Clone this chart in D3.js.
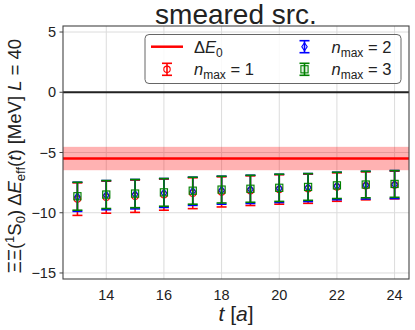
<!DOCTYPE html>
<html><head><meta charset="utf-8">
<script src="https://cdn.jsdelivr.net/npm/d3@7"></script>
<style>body{margin:0;background:#fff}svg{display:block}text{font-family:"Liberation Sans",Arial,sans-serif}</style>
</head><body>
<script>
const tVals = [13,14,15,16,17,18,19,20,21,22,23,24];
const n1Val = [-8.87,-8.71,-8.63,-8.50,-8.38,-8.27,-8.17,-8.07,-8.01,-7.87,-7.77,-7.70];
const n1Err = [1.35,1.33,1.34,1.29,1.28,1.25,1.23,1.22,1.21,1.18,1.16,1.15];
const n2Val = [-8.68,-8.54,-8.46,-8.36,-8.22,-8.13,-8.06,-7.98,-7.91,-7.78,-7.71,-7.66];
const n2Err = [1.21,1.21,1.22,1.20,1.17,1.16,1.17,1.17,1.16,1.14,1.15,1.16];
const n3Val = [-8.63,-8.49,-8.41,-8.31,-8.17,-8.08,-8.01,-7.93,-7.86,-7.73,-7.66,-7.61];
const n3Err = [1.16,1.16,1.17,1.15,1.12,1.11,1.12,1.13,1.11,1.09,1.10,1.11];
const E0 = -5.5, E0Err = 0.97;
const xTicks = [14,16,18,20,22,24];
const yTicks = [5,0,-5,-10,-15];

const W=415,H=330, L=63,R=409,T=26,B=279;
const svg=d3.select("body").append("svg").attr("width",W).attr("height",H);
const x=d3.scaleLinear().domain([12.5,24.5]).range([L,R]);
const y=d3.scaleLinear().domain([-15.5,5.5]).range([B,T]);

// grid
svg.append("g").selectAll("line").data(xTicks).join("line")
  .attr("x1",d=>x(d)).attr("x2",d=>x(d)).attr("y1",T).attr("y2",B)
  .attr("stroke","#dcdcdc").attr("stroke-width",1);
svg.append("g").selectAll("line").data(yTicks).join("line")
  .attr("x1",L).attr("x2",R).attr("y1",d=>y(d)).attr("y2",d=>y(d))
  .attr("stroke","#dcdcdc").attr("stroke-width",1);

// band & line
svg.append("rect").attr("x",L).attr("width",R-L)
  .attr("y",y(E0+E0Err)).attr("height",y(E0-E0Err)-y(E0+E0Err))
  .attr("fill","#ff0000").attr("fill-opacity",0.3);
svg.append("line").attr("x1",L).attr("x2",R).attr("y1",y(E0)).attr("y2",y(E0))
  .attr("stroke","#ff0000").attr("stroke-width",2.5);
svg.append("line").attr("x1",L).attr("x2",R).attr("y1",y(0)).attr("y2",y(0))
  .attr("stroke","#222").attr("stroke-width",1.8);

const series=[
  {vals:n1Val,errs:n1Err,color:"#ff0000",marker:"circle"},
  {vals:n2Val,errs:n2Err,color:"#0000ff",marker:"diamond"},
  {vals:n3Val,errs:n3Err,color:"#008000",marker:"square"}
];
function drawMarker(g,type,cx,cy,color){
  if(type==="circle") g.append("circle").attr("cx",cx).attr("cy",cy).attr("r",3.2)
      .attr("fill","none").attr("stroke",color).attr("stroke-width",1.1);
  else if(type==="diamond") g.append("path")
      .attr("d",`M${cx},${cy-4}L${cx+2.7},${cy}L${cx},${cy+4}L${cx-2.7},${cy}Z`)
      .attr("fill","none").attr("stroke",color).attr("stroke-width",1.1);
  else g.append("rect").attr("x",cx-3.6).attr("y",cy-3.6).attr("width",7.2).attr("height",7.2)
      .attr("fill","#008000").attr("fill-opacity",0.12).attr("stroke",color).attr("stroke-width",1.1);
}
function errbar(g,cx,yTop,yBot,color){
  g.append("line").attr("x1",cx).attr("x2",cx).attr("y1",yTop).attr("y2",yBot)
    .attr("stroke",color).attr("stroke-width",1.6);
  [yTop,yBot].forEach(yy=>g.append("line").attr("x1",cx-5).attr("x2",cx+5)
    .attr("y1",yy).attr("y2",yy).attr("stroke",color).attr("stroke-width",1.6));
}
series.forEach(s=>{
  const g=svg.append("g");
  tVals.forEach((t,i)=>{
    errbar(g,x(t),y(s.vals[i]+s.errs[i]),y(s.vals[i]-s.errs[i]),s.color);
    drawMarker(g,s.marker,x(t),y(s.vals[i]),s.color);
  });
});

// frame
svg.append("rect").attr("x",L).attr("y",T).attr("width",R-L).attr("height",B-T)
  .attr("fill","none").attr("stroke","#444").attr("stroke-width",1.1);

// y ticks
svg.append("g").selectAll("line").data(yTicks).join("line")
  .attr("x1",L-3.5).attr("x2",L).attr("y1",d=>y(d)).attr("y2",d=>y(d))
  .attr("stroke","#444").attr("stroke-width",1);
svg.append("g").selectAll("text").data(yTicks).join("text")
  .attr("x",L-7).attr("y",d=>y(d)+5).attr("text-anchor","end")
  .attr("font-size",14.5).attr("fill","#222")
  .text(d=>d<0?"\u2212"+Math.abs(d):d);
svg.append("g").selectAll("text").data(xTicks).join("text")
  .attr("x",d=>x(d)).attr("y",300).attr("text-anchor","middle")
  .attr("font-size",14.5).attr("fill","#222").text(d=>d);

// title
svg.append("text").attr("x",(L+R)/2).attr("y",24).attr("text-anchor","middle")
  .attr("font-size",28).attr("fill","#222").text("smeared src.");

// x label
const xl=svg.append("text").attr("x",(L+R)/2).attr("y",321).attr("text-anchor","middle")
  .attr("font-size",21).attr("fill","#222");
xl.append("tspan").attr("font-style","italic").text("t");
xl.append("tspan").text(" [");
xl.append("tspan").attr("font-style","italic").text("a");
xl.append("tspan").text("]");

// y label
const yl=svg.append("text").attr("transform","translate(21,156) rotate(-90)")
  .attr("text-anchor","middle").attr("font-size",18.5).attr("fill","#222");
yl.append("tspan").text("ΞΞ(");
yl.append("tspan").attr("font-size",13).attr("dy",-7).text("1");
yl.append("tspan").attr("dy",7).text("S");
yl.append("tspan").attr("font-size",13).attr("dy",4).text("0");
yl.append("tspan").attr("dy",-4).text(") Δ");
yl.append("tspan").attr("font-style","italic").text("E");
yl.append("tspan").attr("font-size",13).attr("dy",4).text("eff");
yl.append("tspan").attr("dy",-4).text("(");
yl.append("tspan").attr("font-style","italic").text("t");
yl.append("tspan").text(") [MeV] ");
yl.append("tspan").attr("font-style","italic").text("L");
yl.append("tspan").text(" = 40");

// legend
const lg=svg.append("g");
lg.append("rect").attr("x",145).attr("y",34.5).attr("width",256).attr("height",49).attr("rx",4)
  .attr("fill","#fff").attr("fill-opacity",0.85).attr("stroke","#666").attr("stroke-width",1);
lg.append("line").attr("x1",151).attr("x2",183).attr("y1",46.7).attr("y2",46.7)
  .attr("stroke","#ff0000").attr("stroke-width",2.5);
function legLabel(xx,yy,parts){
  const t=lg.append("text").attr("x",xx).attr("y",yy+6).attr("font-size",16.5).attr("fill","#222");
  parts.forEach(p=>{
    const s=t.append("tspan").text(p.t);
    if(p.i) s.attr("font-style","italic");
    if(p.sub) s.attr("font-size",12).attr("dy",4);
    if(p.up) s.attr("dy",-4);
  });
}
legLabel(194,46.7,[{t:"Δ"},{t:"E",i:true},{t:"0",sub:true}]);
const legItems=[
  {s:series[0],cx:167,cy:69.3,lab:"1",lx:194},
  {s:series[1],cx:304.5,cy:46.7,lab:"2",lx:331.5},
  {s:series[2],cx:304.5,cy:69.3,lab:"3",lx:331.5}
];
legItems.forEach(it=>{
  errbar(lg,it.cx,it.cy-6,it.cy+6,it.s.color);
  drawMarker(lg,it.s.marker,it.cx,it.cy,it.s.color);
  legLabel(it.lx,it.cy,[{t:"n",i:true},{t:"max",sub:true},{t:" = "+it.lab,up:true}]);
});
</script>
</body></html>
